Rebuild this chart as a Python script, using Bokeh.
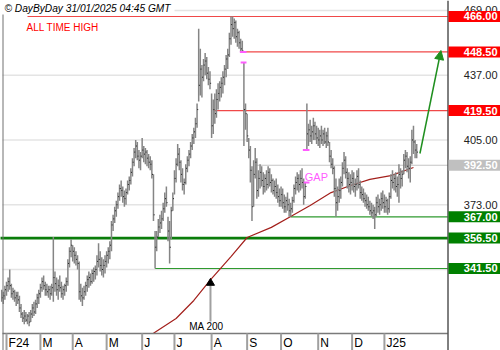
import numpy as np
from bokeh.plotting import figure
from bokeh.models import Range1d, Arrow, NormalHead
from bokeh.core.properties import value
from bokeh.embed import file_html
from bokeh.resources import INLINE

# ---------------- DATA ----------------
# daily bars, Euronext trading days, 29 Jan 2024 .. 30 Jan 2025
high = [
    331, 330, 333, 335, 337, 341, 334, 332, 331, 330,
    330, 328, 324, 320, 321, 320, 319, 320, 321, 324,
    325, 326, 329, 331, 334, 337, 338, 335, 334, 333,
    333, 334, 357, 340, 337, 336, 338, 335, 333, 334,
    337, 346, 352, 356, 353, 352, 350, 348, 345, 334,
    332, 333, 335, 338, 340, 339, 341, 342, 343, 348,
    354, 350, 347, 346, 348, 350, 352, 355, 365, 368,
    372, 375, 379, 383, 385, 382, 380, 381, 385, 387,
    391, 396, 401, 405, 404, 400, 399, 406, 402, 401,
    400, 398, 397, 395, 388, 360, 360, 366, 368, 370,
    374, 379, 382, 367, 365, 372, 379, 390, 396, 403,
    401, 395, 391, 386, 393, 397, 400, 404, 408, 411,
    416, 423, 460, 450, 442, 445, 448, 446, 441, 439,
    428, 425, 428, 430, 433, 434, 436, 439, 442, 447,
    450, 458, 466, 466, 465, 464, 460, 459, 455, 454,
    443, 423, 418, 406, 402, 392, 395, 401, 396, 390,
    393, 392, 389, 388, 390, 392, 391, 388, 386, 385,
    386, 383, 381, 382, 381, 378, 377, 379, 376, 374,
    377, 383, 387, 389, 388, 390, 391, 386, 384, 423,
    413, 415, 412, 416, 414, 412, 411, 410, 412, 410,
    411, 409, 411, 404, 400, 396, 392, 386, 382, 386,
    387, 394, 399, 397, 391, 389, 388, 390, 389, 386,
    390, 391, 385, 382, 381, 379, 378, 377, 375, 374,
    373, 372, 377, 378, 376, 379, 380, 378, 377, 376,
    379, 388, 390, 388, 389, 387, 393, 391, 390, 398,
    400, 399, 396, 397, 410, 412, 405, 403,
]
low = [
    325, 324, 326, 328, 330, 331, 327, 326, 325, 323,
    324, 320, 317, 315, 314, 315, 314, 313, 315, 317,
    318, 319, 322, 324, 327, 330, 331, 328, 328, 327,
    326, 328, 325, 330, 328, 326, 330, 327, 326, 328,
    330, 333, 342, 347, 345, 344, 343, 341, 326, 325,
    323, 326, 328, 330, 332, 333, 334, 335, 336, 338,
    342, 340, 338, 337, 339, 342, 344, 346, 350, 360,
    364, 367, 371, 375, 377, 374, 372, 373, 378, 380,
    383, 387, 392, 396, 395, 391, 390, 396, 394, 393,
    392, 391, 390, 386, 365, 341.5, 350, 357, 359, 361,
    365, 369, 372, 355, 344, 356, 370, 378, 384, 392,
    390, 384, 380, 378, 383, 389, 392, 396, 400, 403,
    406, 411, 424, 427, 426, 434, 437, 435, 432, 430,
    406, 408, 413, 416, 420, 424, 426, 428, 432, 436,
    440, 446, 452, 456, 455, 453, 451, 450, 448.5, 448.5,
    402, 410, 404, 396, 384, 365, 372, 386, 376, 377,
    381, 382, 378, 379, 380, 381, 382, 379, 378, 377,
    376, 374, 372, 372, 371, 369, 369, 370, 367, 367,
    369, 374, 378, 380, 379, 380, 381, 373, 376, 400,
    402, 404, 403, 405, 405, 403, 402, 401, 403, 402,
    403, 401, 402, 394, 391, 388, 377, 367, 370, 374,
    376, 382, 388, 386, 381, 379, 378, 380, 379, 377,
    380, 381, 376, 375, 374, 372, 371, 370, 368, 367,
    366, 361, 367, 369, 368, 370, 371, 369, 369, 368,
    369, 376, 381, 380, 379, 377, 374, 381, 382, 388,
    391, 389, 386, 384, 393, 398, 396, 396,
]
close = [
    327, 328, 331, 333, 335, 333, 329, 330, 327, 328,
    326, 322, 319, 317, 318, 316, 318, 315, 319, 322,
    320, 324, 327, 329, 332, 335, 333, 331, 330, 331,
    329, 332, 337, 334, 331, 333, 332, 329, 331, 333,
    335, 344, 350, 353, 350, 348, 346, 344, 330, 328,
    327, 330, 333, 336, 337, 335, 339, 340, 341, 345,
    346, 343, 341, 343, 345, 348, 350, 353, 363, 366,
    370, 373, 377, 381, 380, 377, 376, 379, 383, 385,
    389, 394, 399, 402, 397, 395, 397, 400, 398, 399,
    396, 394, 393, 388, 368, 352, 357, 362, 364, 366,
    371, 376, 374, 360, 352, 370, 376, 386, 393, 398,
    394, 388, 383, 384, 391, 395, 398, 402, 406, 409,
    413, 420, 432, 440, 436, 442, 444, 438, 435, 433,
    412, 420, 418, 425, 428, 431, 433, 436, 440, 445,
    447, 455, 462, 460, 463, 456, 458, 453, 450, 449,
    420, 418, 407, 400, 390, 372, 388, 394, 380, 386,
    389, 385, 382, 386, 383, 389, 384, 385, 380, 382,
    379, 377, 375, 378, 374, 372, 375, 373, 370, 371,
    375, 381, 384, 386, 383, 386, 384, 377, 382, 408,
    410, 407, 409, 412, 408, 406, 405, 407, 405, 408,
    404, 407, 404, 397, 393, 391, 381, 374, 377, 380,
    384, 391, 395, 389, 386, 383, 384, 386, 382, 383,
    387, 383, 379, 378, 376, 375, 373, 372, 370, 369,
    370, 368, 374, 372, 373, 376, 374, 372, 375, 371,
    377, 385, 384, 386, 382, 383, 388, 386, 388, 395,
    397, 392, 391, 394, 405, 404, 400, 399,
]

# 200-day moving average, read at a few bars
ma200_bar = [94, 108, 119, 129, 142, 152, 167, 179, 191, 204, 216, 228, 241, 255]
ma200_val = [309.5, 316.8, 325.7, 335.6, 347.4, 356.8, 361.8, 367.2, 372.6, 379.0,
             382.5, 385.5, 387.4, 391.4]

# month labels and the first bar of each month
month_labels = ["F24", "M", "A", "M", "J", "J", "A", "S", "O", "N", "D", "J25"]
month_start_bar = [3, 24, 44, 65, 87, 107, 130, 152, 173, 196, 217, 237]

# right price scale
price_ticks = [341, 373, 405, 437, 469]

# key levels
level_values = [466.0, 448.5, 419.5, 392.5, 367.0, 356.5, 341.5]
level_labels = ["466.00", "448.50", "419.50", "392.50", "367.00", "356.50", "341.50"]
level_start_bar = [16, 148, 131, 157, 179, -1, 95]
level_kind = ["res", "res", "res", "pivot", "sup", "sup_major", "sup"]

# gaps: bar of the gap, upper and lower edge
gap_bar = [150, 189]
gap_upper = [448.5, 400.0]
gap_lower = [443.3, 384.0]

# projected target arrow
arrow_from_bar, arrow_from_val = 259, 398.3
arrow_to_bar, arrow_to_val = 272, 449.2

# ---------------- LAYOUT ----------------
W, H = 500, 350
BAR0_PX = 1.155       # pixel of bar 0
PX_PER_BAR = 1.615
TOP_VAL = 473.9       # value at pixel row 0
PX_PER_UNIT = 2.024
PLOT_R = 447          # right edge of price pane (px)
AX_Y = 333            # x-axis line (px)
FONT = value("Liberation Sans")


def bx(px):
    return (px - BAR0_PX) / PX_PER_BAR


def vy(py):
    return TOP_VAL - py / PX_PER_UNIT


p = figure(width=W, height=H, x_range=Range1d(bx(0), bx(W)), y_range=Range1d(vy(H), vy(0)),
           x_axis_type=None, y_axis_type=None, toolbar_location=None, output_backend="svg",
           min_border=0, outline_line_color=None, background_fill_color="white",
           border_fill_color="white")

# gridlines
p.segment(x0=bx(2), x1=bx(PLOT_R), y0=price_ticks, y1=price_ticks,
          line_color="#e4e4e4", line_width=1.5)

# key level lines
style = {
    "res": ("#f04848", 1.2, "#ff0000"),
    "pivot": ("#c4c4c4", 1.2, "#c0c0c0"),
    "sup": ("#2f9a2f", 1.2, "#008000"),
    "sup_major": ("#0a7d0a", 2.6, "#008000"),
}
for v, sb, k in zip(level_values, level_start_bar, level_kind):
    lc, lw, _ = style[k]
    p.segment(x0=sb, x1=bx(PLOT_R), y0=v, y1=v, line_color=lc, line_width=lw)

# moving average
p.line(ma200_bar, ma200_val, line_color="#a3201c", line_width=1.2)

# price bars
idx = np.arange(len(close))
p.segment(x0=idx, x1=idx, y0=low, y1=high, line_color="#858585", line_width=1.5)
p.segment(x0=idx + 0.15, x1=idx + 0.7, y0=close, y1=close, line_color="#111111", line_width=1)

# gap markers
pink = "#ff5cff"
for b, up, lo in zip(gap_bar, gap_upper, gap_lower):
    p.segment(x0=[b - 2.5, b - 2], x1=[b + 1.6, b + 1.6], y0=[up, lo], y1=[up, lo],
              line_color=pink, line_width=2)
p.text(x=[gap_bar[1] - 1.3], y=[vy(176)], text=["GAP"], text_color=pink,
       text_font=FONT, text_font_size="11px", text_align="left", text_baseline="middle")

# ATH caption
p.text(x=[bx(26)], y=[vy(27)], text=["ALL TIME HIGH"], text_color="#ff0000",
       text_font=FONT, text_font_size="10px", text_align="left", text_baseline="middle")

# MA 200 caption
ma_b = ma200_bar[3]
p.segment(x0=ma_b + 0.3, x1=ma_b + 0.3, y0=vy(285), y1=vy(321), line_color="#a0a0a0", line_width=2)
p.scatter(x=[ma_b + 0.3], y=[vy(282.5)], marker="triangle", size=8, fill_color="black", line_color="black")
p.text(x=[bx(206)], y=[vy(326)], text=["MA 200"], text_color="black",
       text_font=FONT, text_font_size="10px", text_align="center", text_baseline="middle")

# target arrow
green = "#1f8f1f"
p.add_layout(Arrow(end=NormalHead(size=9, fill_color=green, line_color=green),
                   x_start=arrow_from_bar, y_start=arrow_from_val,
                   x_end=arrow_to_bar, y_end=arrow_to_val,
                   line_color=green, line_width=1.5))

# x axis: line, month separators and labels
p.segment(x0=bx(2), x1=bx(PLOT_R), y0=vy(AX_Y), y1=vy(AX_Y), line_color="#7a7a7a", line_width=1.5)
p.segment(x0=month_start_bar, x1=month_start_bar, y0=vy(AX_Y), y1=vy(H),
          line_color="#a0a0a0", line_width=2)
p.text(x=[b + 1.3 for b in month_start_bar], y=vy(342), text=month_labels, text_color="black",
       text_font=FONT, text_font_size="12px", text_align="left", text_baseline="middle")

# frame borders
p.segment(x0=bx(2.5), x1=bx(2.5), y0=vy(13), y1=vy(H), line_color="#707070", line_width=1)
p.segment(x0=bx(PLOT_R + 0.5), x1=bx(PLOT_R + 0.5), y0=vy(0), y1=vy(H), line_color="black", line_width=1)

# right price scale labels
p.text(x=bx(497), y=price_ticks, text=[f"{t:.2f}" for t in price_ticks], text_color="#222222",
       text_font=FONT, text_font_size="11px", text_align="right", text_baseline="middle")
# level boxes
for v, lab, k in zip(level_values, level_labels, level_kind):
    fc = style[k][2]
    p.rect(x=bx((PLOT_R + 1 + W) / 2), y=v, width=W - PLOT_R - 1, height=11,
           width_units="screen", height_units="screen", fill_color=fc, line_color=None)
    p.text(x=[bx(497)], y=[v], text=[lab], text_color="white", text_font=FONT,
           text_font_size="11px", text_font_style="bold", text_align="right", text_baseline="middle")

# header
p.quad(left=bx(0), right=bx(174), bottom=vy(14), top=vy(0), fill_color="white", line_color=None)
p.text(x=[bx(4)], y=[vy(7.5)], text=["© DayByDay 31/01/2025 04:45 GMT"], text_color="black",
       text_font=FONT, text_font_size="10.2px", text_font_style="italic",
       text_align="left", text_baseline="middle")

open("out.html", "w").write(file_html(p, INLINE))
